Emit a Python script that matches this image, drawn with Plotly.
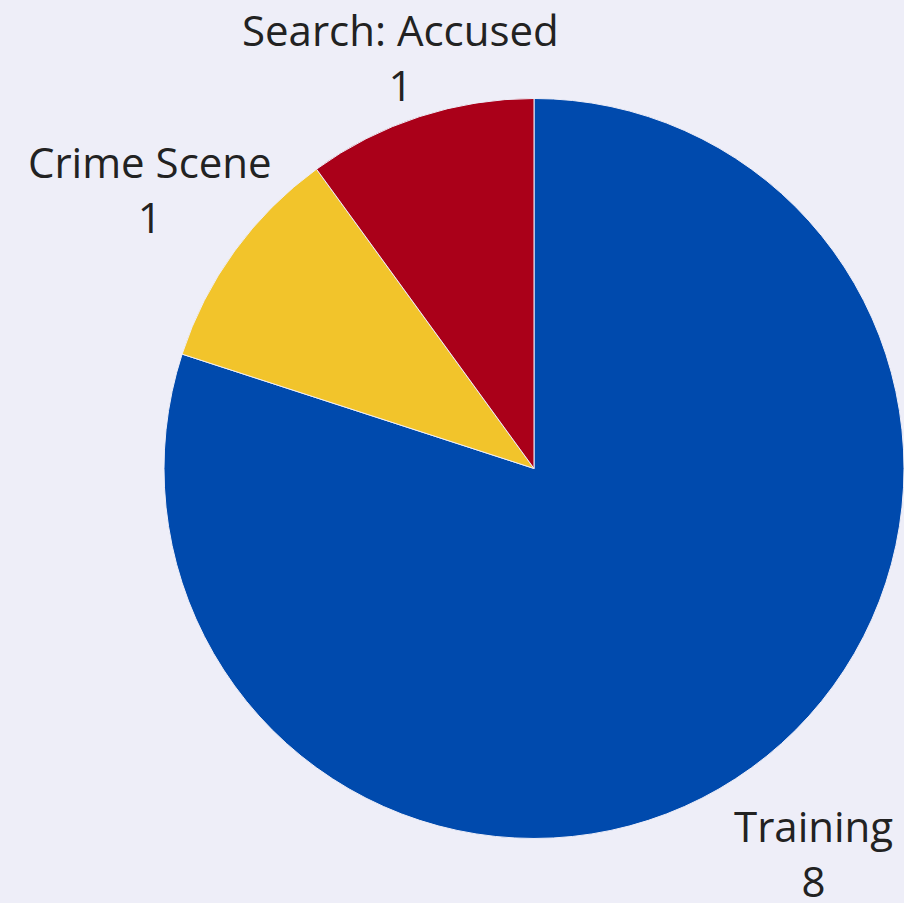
import math
import plotly.graph_objects as go

labels = ["Training", "Crime Scene", "Search: Accused"]
values = [8, 1, 1]
colors = ["#004AAD", "#F2C42B", "#AA0019"]

W, H = 904, 903
dom_x = [0.1814, 1.0]
dom_y = [0.0698, 0.8926]
font_size = 42
text_color = "#222222"
label_offset = 105   # px beyond the pie radius
top_pad = 57         # min px between a label's centre and the top edge

fig = go.Figure(go.Pie(
    labels=labels,
    values=values,
    marker=dict(colors=colors, line=dict(color="#EEEEF8", width=1)),
    textinfo="none",
    sort=False,
    direction="clockwise",
    rotation=0,
    showlegend=False,
    domain=dict(x=dom_x, y=dom_y),
    hoverinfo="label+value",
))

# Outside labels placed along each slice's mid-angle ray
cx = W * (dom_x[0] + dom_x[1]) / 2
cy = H * (1 - (dom_y[0] + dom_y[1]) / 2)
r = min(W * (dom_x[1] - dom_x[0]), H * (dom_y[1] - dom_y[0])) / 2
total = sum(values)
annotations = []
cum = 0
for lab, val in zip(labels, values):
    mid = math.radians((cum + val / 2) / total * 360)
    cum += val
    ux, uy = math.sin(mid), -math.cos(mid)
    d = r + label_offset
    if uy < 0:
        d = min(d, (cy - top_pad) / abs(uy))
    px, py = cx + d * ux, cy + d * uy
    annotations.append(dict(
        x=px / W, y=1 - py / H, xref="paper", yref="paper",
        text=f"{lab}<br>{val}", showarrow=False,
        xanchor="center", yanchor="middle", align="center",
        font=dict(family="Open Sans", size=font_size, color=text_color),
    ))

fig.update_layout(
    width=W,
    height=H,
    margin=dict(l=0, r=0, t=0, b=0),
    paper_bgcolor="#EEEEF8",
    plot_bgcolor="#EEEEF8",
    font=dict(family="Open Sans", size=font_size, color=text_color),
    showlegend=False,
    annotations=annotations,
)

fig.write_html("out.html", config={"displayModeBar": False},
               post_script="document.body.style.margin='0';")
